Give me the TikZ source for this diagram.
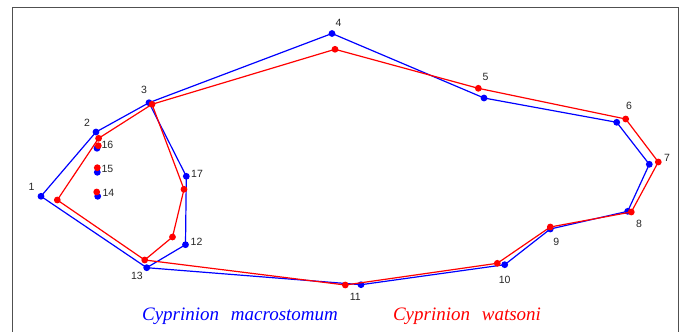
\documentclass[tikz,border=0pt]{standalone}
\usepackage{fontspec}
\setmainfont{Liberation Serif}
\newfontfamily\labfont{Liberation Sans}
\usetikzlibrary{calc}
\definecolor{macro}{HTML}{0000FF}
\definecolor{wats}{HTML}{FF0000}
\definecolor{framec}{HTML}{505050}
\tikzset{
  outl/.style={line width=1.2pt,line join=round},
  lab/.style={font=\labfont\fontsize{10.5}{10.5}\selectfont,text=black!85,inner sep=0pt},
  legend/.style={font=\itshape\fontsize{19}{19}\selectfont,inner sep=0pt}
}
% outline of one specimen: prefix, colour, landmarks n/x/y
\newcommand{\specimen}[3]{%
  \foreach \n/\px/\py in {#3}{\coordinate (#1-\n) at (\px,\py);}
  \draw[outl,#2] (#1-1) \foreach \k in {2,...,11,13}{-- (#1-\k)} -- cycle;
  \draw[outl,#2] (#1-3) -- (#1-17) -- (#1-12) -- (#1-13);
  \foreach \k in {1,...,17}{\fill[#2] (#1-\k) circle (3.4);}}

\begin{document}
\begin{tikzpicture}[x=1pt,y=-1pt]
\useasboundingbox (0,0) rectangle (683,332);
\draw[framec,line width=0.9pt] (12.5,332) -- (12.5,7) -- (678,7) -- (678,332);
\specimen{bl}{macro}{1/41/196.3, 2/96/132, 3/149/102.7, 4/332/33.5, 5/484/98,
  6/616.7/122.3, 7/649.3/164.3, 8/627.7/211.3, 9/550.3/229, 10/504.7/264.7,
  11/361/284.7, 12/185.5/244.7, 13/146.7/267.7, 14/97.7/196.3, 15/97.3/172.3,
  16/97/148.3, 17/186.3/176.3}
\specimen{rd}{wats}{1/57.3/200, 2/98.6/138.3, 3/152/104.3, 4/335/49.3, 5/478.3/88.3,
  6/625.7/119, 7/658.3/162, 8/631.3/212, 9/550.3/227, 10/497.3/263.3,
  11/345.3/285, 12/172.5/237, 13/144.7/260, 14/96.7/192, 15/97.3/167.7,
  16/98.3/145.7, 17/184/189.3}
% landmark numbers
\foreach \n/\px/\py in {1/31.5/187, 2/87/122.5, 3/144/90, 4/338.5/22.5, 5/485.5/77,
  6/629/106, 7/667/158, 8/639/224, 9/556.3/241.5, 10/504.7/279.5, 11/355.3/296.7,
  12/196.5/242, 13/137/276, 14/108.5/193.3, 15/107.5/169, 16/107.5/145, 17/197/174}
  {\node[lab] (lab\n) at (\px,\py) {\n};}
\node[legend,text=macro] (leg-bl) at (240,316) {Cyprinion\hspace{7pt} macrostomum};
\node[legend,text=wats] (leg-rd) at (467,316) {Cyprinion\hspace{7pt} watsoni};
\end{tikzpicture}
\end{document}
